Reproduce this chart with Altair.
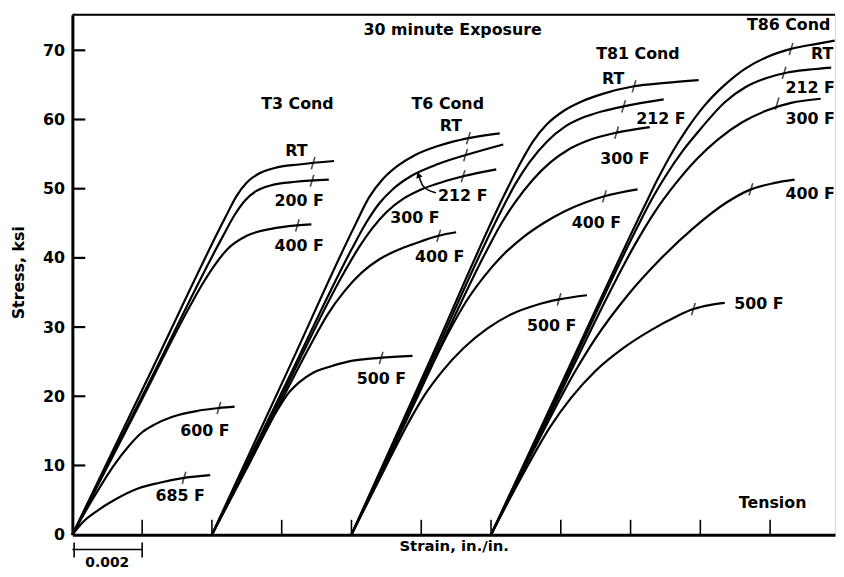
import altair as alt
import pandas as pd

# strain in units of 0.001 in./in., stress in ksi
t3_rt_e = [0, 2.2, 4.4, 4.7, 5.0, 5.35, 5.8, 6.5, 7.5]
t3_rt_s = [0, 23.0, 46.0, 48.9, 50.9, 52.2, 53.0, 53.5, 54.0]
t3_200_e = [0, 2.2, 4.3, 4.65, 4.95, 5.25, 5.7, 6.4, 7.35]
t3_200_s = [0, 22.0, 43.0, 46.2, 48.3, 49.6, 50.5, 51.0, 51.3]
t3_400_e = [0, 1.9, 3.4, 3.75, 4.1, 4.45, 5.0, 5.7, 6.45, 6.85]
t3_400_s = [0, 18.6, 33.3, 36.4, 39.1, 41.3, 43.2, 44.2, 44.7, 44.85]
t3_600_e = [0, 0.6, 1.2, 1.65, 2.0, 2.35, 2.85, 3.6, 4.2, 4.65]
t3_600_s = [0, 5.3, 10.1, 13.0, 14.8, 15.9, 17.0, 17.9, 18.3, 18.5]
t3_685_e = [0, 0.3, 0.7, 1.2, 1.9, 2.5, 3.2, 3.95]
t3_685_s = [0, 1.8, 3.4, 5.0, 6.7, 7.5, 8.2, 8.6]

t6_rt_e = [4.0, 6.2, 8.1, 8.5, 8.9, 9.35, 9.8, 10.5, 11.35, 12.25]
t6_rt_s = [0, 24.0, 44.7, 48.7, 51.4, 53.4, 54.8, 56.2, 57.3, 58.0]
t6_212_e = [4.0, 6.1, 8.0, 8.4, 8.8, 9.2, 9.7, 10.5, 11.3, 12.35]
t6_212_s = [0, 21.6, 41.2, 44.9, 47.9, 50.0, 51.8, 53.6, 54.9, 56.4]
t6_300_e = [4.0, 6.0, 7.8, 8.2, 8.6, 9.0, 9.5, 10.0, 10.7, 11.2, 12.15]
t6_300_s = [0, 20.0, 38.0, 41.4, 44.3, 46.6, 48.6, 49.9, 51.1, 51.8, 52.8]
t6_400_e = [4.0, 5.6, 6.9, 7.3, 7.8, 8.3, 8.8, 9.4, 10.0, 10.5, 11.0]
t6_400_s = [0, 15.5, 28.1, 31.7, 35.2, 37.9, 39.8, 41.3, 42.4, 43.2, 43.7]
t6_500_e = [4.0, 5.0, 5.9, 6.2, 6.5, 6.9, 7.4, 7.9, 8.8, 9.75]
t6_500_s = [0, 9.6, 18.2, 20.5, 22.0, 23.4, 24.3, 25.0, 25.55, 25.85]

t81_rt_e = [8.0, 10.2, 12.4, 12.8, 13.2, 13.6, 14.1, 14.6, 15.2, 16.1, 17.0, 17.95]
t81_rt_s = [0, 24.6, 49.3, 53.3, 56.8, 59.3, 61.3, 62.6, 63.7, 64.8, 65.3, 65.7]
t81_212_e = [8.0, 10.2, 12.3, 12.7, 13.1, 13.6, 14.1, 14.6, 15.2, 15.8, 16.95]
t81_212_s = [0, 24.0, 46.9, 50.7, 53.8, 56.8, 58.9, 60.2, 61.2, 61.9, 62.9]
t81_300_e = [8.0, 10.1, 11.9, 12.3, 12.7, 13.2, 13.7, 14.2, 14.8, 15.6, 16.55]
t81_300_s = [0, 22.3, 41.3, 45.0, 48.1, 51.3, 53.8, 55.6, 57.0, 58.1, 58.9]
t81_400_e = [8.0, 9.6, 10.8, 11.3, 11.8, 12.3, 12.9, 13.5, 14.1, 14.7, 15.25, 16.2]
t81_400_s = [0, 16.8, 29.4, 33.8, 37.3, 40.2, 42.9, 45.0, 46.7, 48.0, 48.9, 49.9]
t81_500_e = [8.0, 9.0, 9.7, 10.1, 10.6, 11.2, 11.9, 12.6, 13.3, 13.95, 14.75]
t81_500_s = [0, 10.0, 16.8, 20.2, 23.6, 26.9, 29.8, 31.9, 33.2, 34.0, 34.6]

t86_rt_e = [12.0, 14.2, 16.4, 16.8, 17.2, 17.6, 18.1, 18.7, 19.3, 19.9, 20.6, 21.3, 21.85]
t86_rt_s = [0, 23.8, 47.5, 51.6, 55.3, 58.5, 61.9, 65.0, 67.4, 69.0, 70.2, 70.9, 71.4]
t86_212_e = [12.0, 14.2, 16.2, 16.6, 17.0, 17.5, 18.0, 18.7, 19.3, 19.9, 20.5, 21.1, 21.75]
t86_212_s = [0, 23.3, 44.5, 48.4, 51.8, 55.5, 58.6, 62.5, 64.7, 66.0, 66.8, 67.2, 67.5]
t86_300_e = [12.0, 13.8, 15.6, 16.1, 16.7, 17.3, 17.9, 18.5, 19.2, 19.9, 20.6, 21.45]
t86_300_s = [0, 18.5, 37.0, 41.7, 46.7, 50.8, 54.3, 57.1, 59.6, 61.3, 62.4, 63.0]
t86_400_e = [12.0, 13.4, 14.4, 15.0, 15.9, 16.85, 17.8, 18.75, 19.45, 20.1, 20.7]
t86_400_s = [0, 14.0, 23.5, 28.4, 34.5, 39.8, 44.3, 48.0, 49.9, 50.8, 51.3]
t86_500_e = [12.0, 13.0, 13.7, 14.3, 15.0, 15.8, 16.6, 17.3, 17.8, 18.3, 18.7]
t86_500_s = [0, 9.5, 15.6, 19.8, 23.7, 27.0, 29.6, 31.5, 32.6, 33.2, 33.5]

# hash marks crossing each curve
hash_e = [6.9, 6.87, 6.45, 4.2, 3.2,
          11.35, 11.27, 11.2, 10.5, 8.85,
          16.1, 15.8, 15.6, 15.25, 13.95,
          20.6, 20.4, 20.2, 19.45, 17.8]
hash_s = [53.7, 51.15, 44.7, 18.3, 8.2,
          57.3, 54.85, 51.8, 43.2, 25.55,
          64.8, 61.9, 58.1, 48.9, 34.0,
          70.2, 66.75, 62.3, 49.9, 32.6]

# curve labels
label_text = ["RT", "200 F", "400 F", "600 F", "685 F",
              "RT", "212 F", "300 F", "400 F", "500 F",
              "RT", "212 F", "300 F", "400 F", "500 F",
              "RT", "212 F", "300 F", "400 F", "500 F",
              "30 minute Exposure", "T3 Cond", "T6 Cond", "T81 Cond", "T86 Cond", "Tension"]
label_e = [6.42, 6.50, 6.50, 3.80, 3.09,
           10.85, 11.19, 9.82, 10.53, 8.86,
           15.50, 16.87, 15.84, 15.02, 13.74,
           21.49, 21.15, 21.15, 21.15, 19.68,
           10.90, 6.45, 10.76, 16.21, 20.53, 20.07]
label_s = [55.4, 48.2, 41.7, 15.0, 5.6,
           59.0, 49.0, 45.8, 40.1, 22.5,
           65.8, 60.1, 54.3, 45.1, 30.1,
           69.4, 64.6, 60.0, 49.2, 33.4,
           72.9, 62.3, 62.3, 69.4, 73.6, 4.6]

# arrow pointing from the T6 "212 F" label to its curve
arrow_e = [9.92, 10.05, 10.42]
arrow_s = [52.0, 50.4, 49.4]

y_ticks = [10, 20, 30, 40, 50, 60, 70]
x_ticks = [2, 4, 6, 8, 10, 12, 14, 16, 18, 20]

curves = [
    ("T3 RT", t3_rt_e, t3_rt_s), ("T3 200", t3_200_e, t3_200_s),
    ("T3 400", t3_400_e, t3_400_s), ("T3 600", t3_600_e, t3_600_s),
    ("T3 685", t3_685_e, t3_685_s),
    ("T6 RT", t6_rt_e, t6_rt_s), ("T6 212", t6_212_e, t6_212_s),
    ("T6 300", t6_300_e, t6_300_s), ("T6 400", t6_400_e, t6_400_s),
    ("T6 500", t6_500_e, t6_500_s),
    ("T81 RT", t81_rt_e, t81_rt_s), ("T81 212", t81_212_e, t81_212_s),
    ("T81 300", t81_300_e, t81_300_s), ("T81 400", t81_400_e, t81_400_s),
    ("T81 500", t81_500_e, t81_500_s),
    ("T86 RT", t86_rt_e, t86_rt_s), ("T86 212", t86_212_e, t86_212_s),
    ("T86 300", t86_300_e, t86_300_s), ("T86 400", t86_400_e, t86_400_s),
    ("T86 500", t86_500_e, t86_500_s),
]
rows = []
for name, es, ss in curves:
    for i, (e, s) in enumerate(zip(es, ss)):
        rows.append({"curve": name, "order": i, "strain": e, "stress": s})
df = pd.DataFrame(rows)

W, H = 770, 525
FONT = "DejaVu Sans"
xs = alt.Scale(domain=[0, 21.86], nice=False, zero=False)
ys = alt.Scale(domain=[0, 75.15], nice=False, zero=False)

X = alt.X("strain:Q", scale=xs,
          axis=alt.Axis(labels=False, ticks=False, grid=False, domainWidth=3,
                        domainColor="black", title="Strain, in./in.",
                        titleFont=FONT, titleFontSize=15, titleFontWeight="bold",
                        titlePadding=4, titleColor="black"))
Y = alt.Y("stress:Q", scale=ys,
          axis=alt.Axis(values=[0, 10, 20, 30, 40, 50, 60, 70], ticks=False,
                        grid=False, domainWidth=3, domainColor="black",
                        labelFont=FONT, labelFontSize=16, labelFontWeight="bold",
                        labelColor="black", labelPadding=8,
                        title="Stress, ksi", titleFont=FONT, titleFontSize=16,
                        titleFontWeight="bold", titleColor="black",
                        titleX=-46, titleY=260))

lines = alt.Chart(df).mark_line(interpolate="monotone", strokeWidth=2.2,
                                color="black").encode(
    x=X, y=Y, detail="curve:N", order="order:Q")

hash_df = pd.DataFrame({"strain": hash_e, "stress": hash_s})
hashes = alt.Chart(hash_df).mark_point(
    shape="M -0.3 1 L 0.3 -1", size=150, strokeWidth=1.6, color="black",
    filled=False).encode(x=alt.X("strain:Q", scale=xs), y=alt.Y("stress:Q", scale=ys))

lab_df = pd.DataFrame({"strain": label_e, "stress": label_s, "text": label_text})
labels = alt.Chart(lab_df).mark_text(
    font=FONT, fontSize=16, fontWeight="bold", color="black",
    align="center", baseline="middle").encode(
    x=alt.X("strain:Q", scale=xs), y=alt.Y("stress:Q", scale=ys), text="text:N")

arr_df = pd.DataFrame({"strain": arrow_e, "stress": arrow_s,
                       "order": list(range(len(arrow_e)))})
arrow = alt.Chart(arr_df).mark_line(interpolate="monotone", strokeWidth=1.6,
                                    color="black").encode(
    x=alt.X("strain:Q", scale=xs), y=alt.Y("stress:Q", scale=ys), order="order:Q")
arrow_head = alt.Chart(arr_df.iloc[:1]).mark_point(
    shape="triangle-up", size=45, filled=True, color="black", opacity=1,
    angle=340).encode(x=alt.X("strain:Q", scale=xs), y=alt.Y("stress:Q", scale=ys))

yt_df = pd.DataFrame({"stress": y_ticks})
ytick = alt.Chart(yt_df).mark_rule(strokeWidth=2.2, color="black").encode(
    y=alt.Y("stress:Q", scale=ys), x=alt.value(0), x2=alt.value(13))

xt_df = pd.DataFrame({"strain": x_ticks})
xtick = alt.Chart(xt_df).mark_rule(strokeWidth=1.6, color="black").encode(
    x=alt.X("strain:Q", scale=xs), y=alt.value(H), y2=alt.value(H - 15))

top = alt.Chart(pd.DataFrame({"a": [0]})).mark_rule(strokeWidth=2, color="black").encode(
    x=alt.value(0), x2=alt.value(W), y=alt.value(0))

bar_df = pd.DataFrame({"strain": [0], "strain2": [2]})
bar = alt.Chart(bar_df).mark_rule(strokeWidth=1.6, color="black").encode(
    x=alt.X("strain:Q", scale=xs), x2="strain2:Q", y=alt.value(540))
bar_ends = alt.Chart(pd.DataFrame({"strain": [0.05, 2]})).mark_rule(
    strokeWidth=1.6, color="black").encode(
    x=alt.X("strain:Q", scale=xs), y=alt.value(533), y2=alt.value(548))
bar_lab = alt.Chart(pd.DataFrame({"strain": [1.0], "text": ["0.002"]})).mark_text(
    font=FONT, fontSize=14, fontWeight="bold", color="black", baseline="middle").encode(
    x=alt.X("strain:Q", scale=xs), y=alt.value(554), text="text:N")

chart = alt.layer(lines, hashes, labels, arrow, arrow_head, ytick, xtick, top,
                  bar, bar_ends, bar_lab).properties(
    width=W, height=H,
    autosize=alt.AutoSizeParams(type="none"),
    padding={"left": 65, "top": 4, "right": 1, "bottom": 38},
).configure_view(stroke=None).configure(background="white")

chart.save("out.html", embed_options={"renderer": "svg", "actions": False})
